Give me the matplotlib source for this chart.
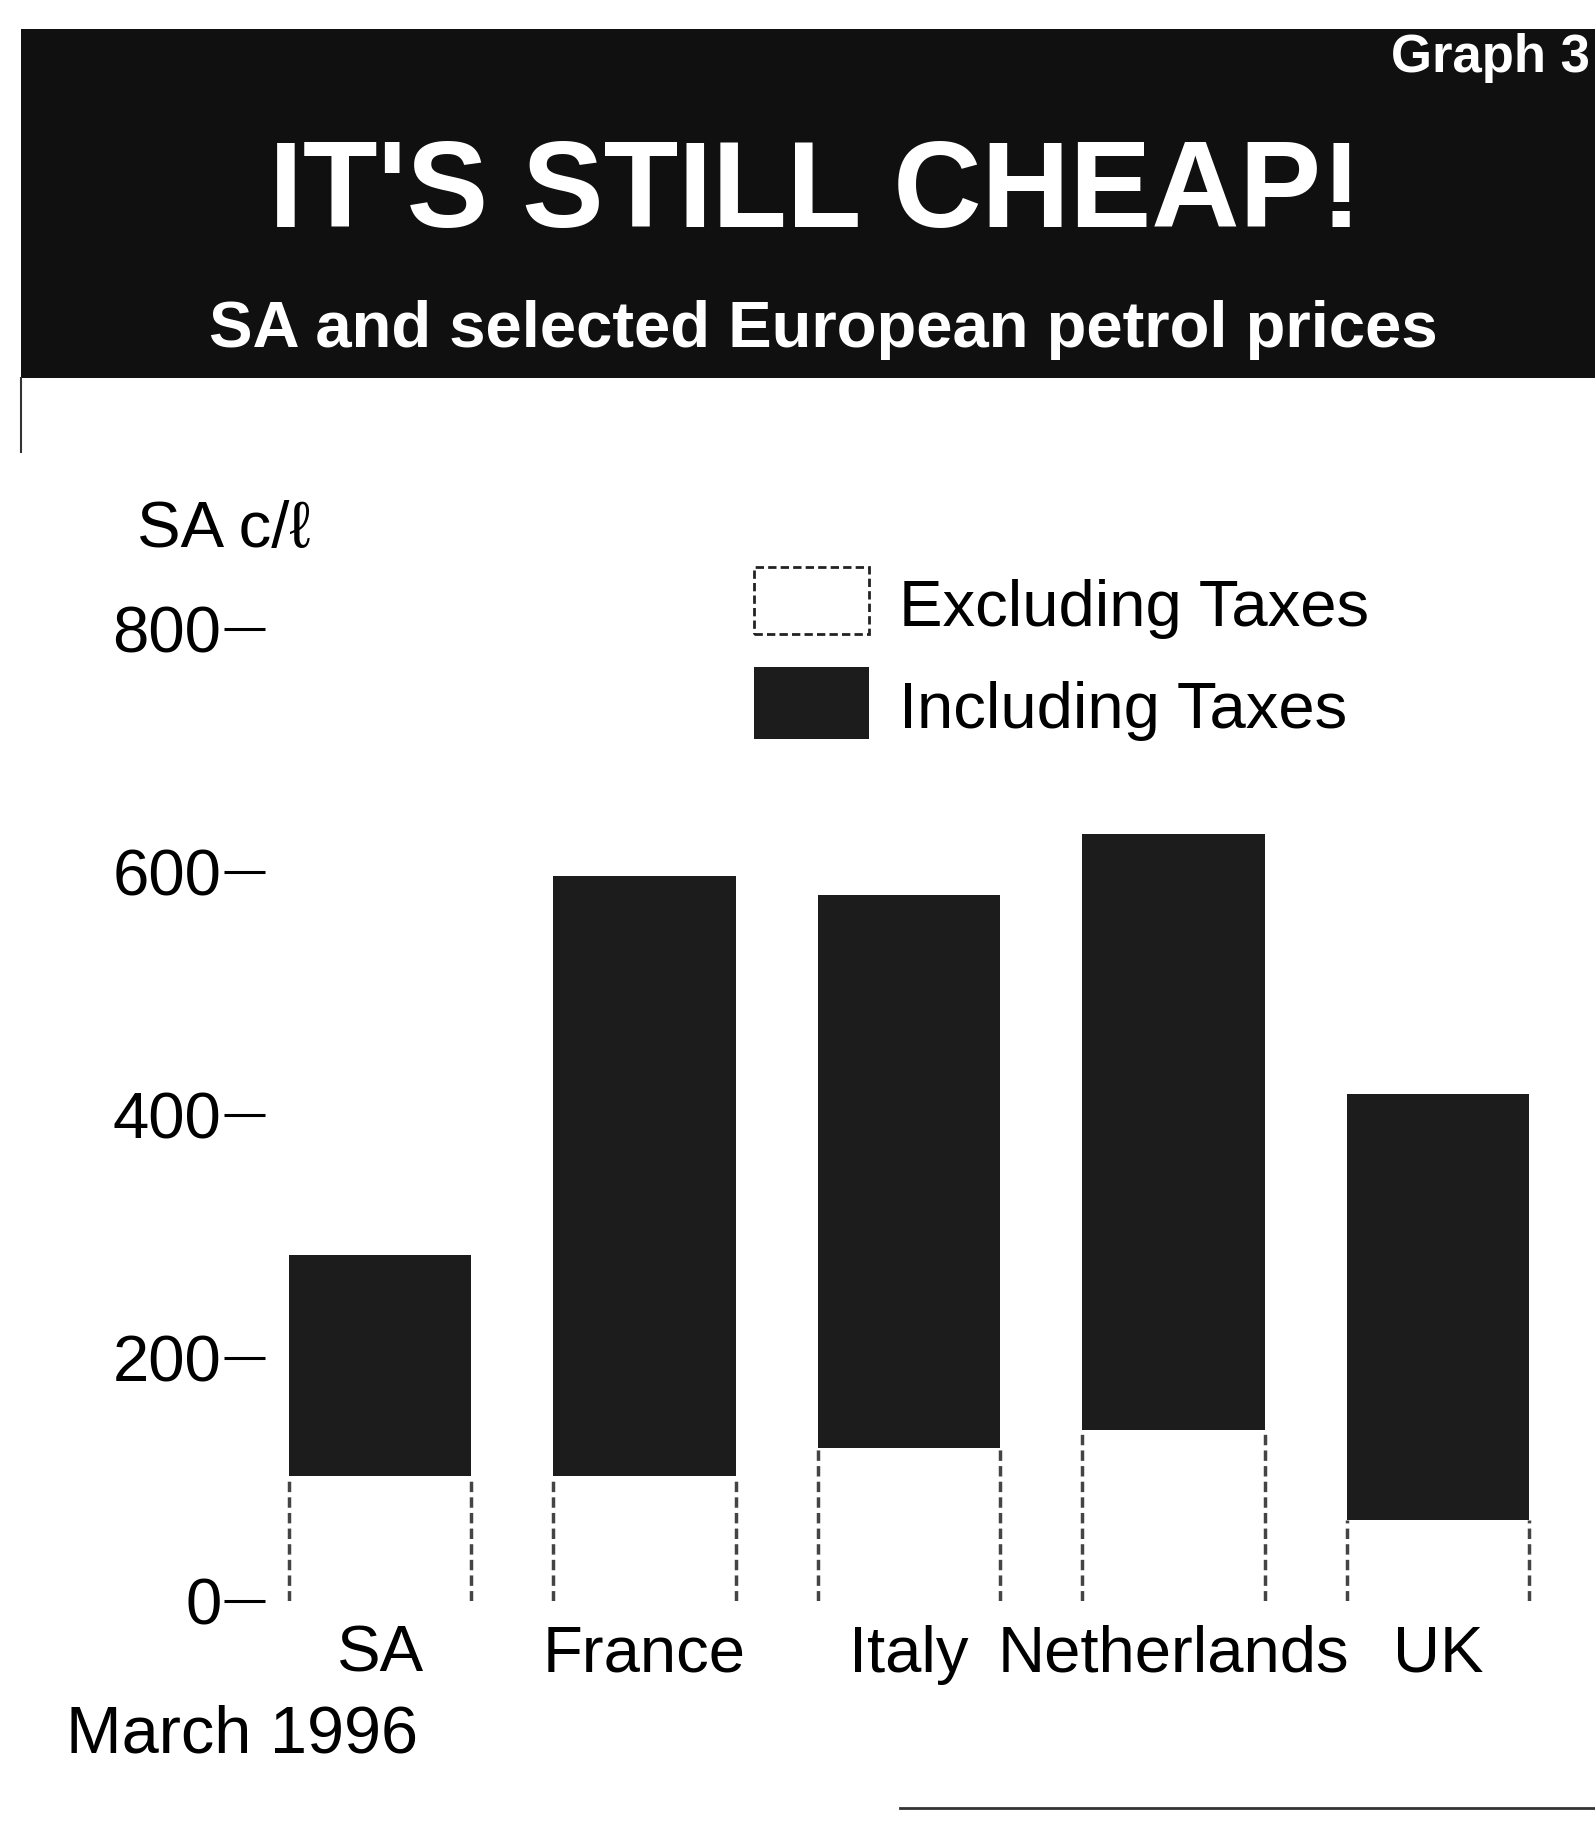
import numpy as np
import matplotlib
matplotlib.use("Agg")
import matplotlib.pyplot as plt
from matplotlib.patches import Rectangle
from matplotlib.lines import Line2D

plt.rcParams['font.family'] = ['Liberation Sans', 'DejaVu Sans']

# Petrol prices, SA cents per litre, March 1996
countries = ['SA', 'France', 'Italy', 'Netherlands', 'UK']
excl_taxes = [103, 103, 126, 141, 67]
incl_taxes = [285, 597, 581, 631, 417]
yticks = [0, 200, 400, 600, 800]

W, H = 1595, 1826


def fx(px):
    return px / W


def fy(py):
    return 1 - py / H


fig = plt.figure(figsize=(W / 100, H / 100), dpi=100)

# black header band
fig.add_artist(Rectangle((fx(21), fy(378)), (W - 21) / W, (378 - 29) / H,
                         transform=fig.transFigure, facecolor='#101010',
                         edgecolor='none'))
fig.add_artist(Line2D([fx(21), fx(21)], [fy(378), fy(452)], color='#333',
                      lw=1.5, transform=fig.transFigure))

fig.text(fx(1590), fy(72), 'Graph 3', color='white', fontsize=38,
         fontweight='bold', ha='right', va='baseline')
fig.text(fx(815), fy(227), "IT'S STILL CHEAP!", color='white', fontsize=88,
         fontweight='bold', ha='center', va='baseline')
fig.text(fx(823), fy(347), 'SA and selected European petrol prices',
         color='white', fontsize=47, fontweight='bold', ha='center',
         va='baseline')

ax = fig.add_axes([fx(265), fy(1601), (1580 - 265) / W, (1601 - 629) / H])
x = np.arange(len(countries))
width = 0.69
excl = np.array(excl_taxes)
incl = np.array(incl_taxes)

ax.bar(x, excl, width, color='white', edgecolor='none')
ax.bar(x, incl - excl, width, bottom=excl, color='#1c1c1c', edgecolor='none')
ax.vlines(np.r_[x - width / 2, x + width / 2], 0, np.r_[excl, excl],
          colors='#444444', linestyles=(0, (3, 1.5)), lw=2.5)

ax.set_xlim(-0.435, 4.537)
ax.set_ylim(0, 800)
for s in ax.spines.values():
    s.set_visible(False)
ax.set_yticks(yticks)
ax.set_yticklabels([str(v) for v in yticks])
ax.tick_params(axis='y', length=29.5, width=2.2, pad=2, labelsize=47)
ax.set_xticks(x)
ax.set_xticklabels(countries)
ax.tick_params(axis='x', length=0, pad=17, labelsize=47)

fig.text(fx(137), fy(547), 'SA c/ℓ', fontsize=47, va='baseline')
fig.text(fx(66), fy(1752), 'March 1996', fontsize=48, va='baseline')

# legend
fig.add_artist(Rectangle((fx(754), fy(634)), 115 / W, 67 / H,
                         transform=fig.transFigure, facecolor='white',
                         edgecolor='#222', lw=2, ls=(0, (3, 1.5))))
fig.add_artist(Rectangle((fx(754), fy(739)), 115 / W, 72 / H,
                         transform=fig.transFigure, facecolor='#1c1c1c',
                         edgecolor='none'))
fig.text(fx(899), fy(626), 'Excluding Taxes', fontsize=47, va='baseline')
fig.text(fx(899), fy(728), 'Including Taxes', fontsize=47, va='baseline')

# page rule at the bottom
fig.add_artist(Line2D([fx(900), 1], [fy(1808), fy(1808)], color='#333',
                      lw=2, transform=fig.transFigure))

fig.savefig('out.png', dpi=100)
